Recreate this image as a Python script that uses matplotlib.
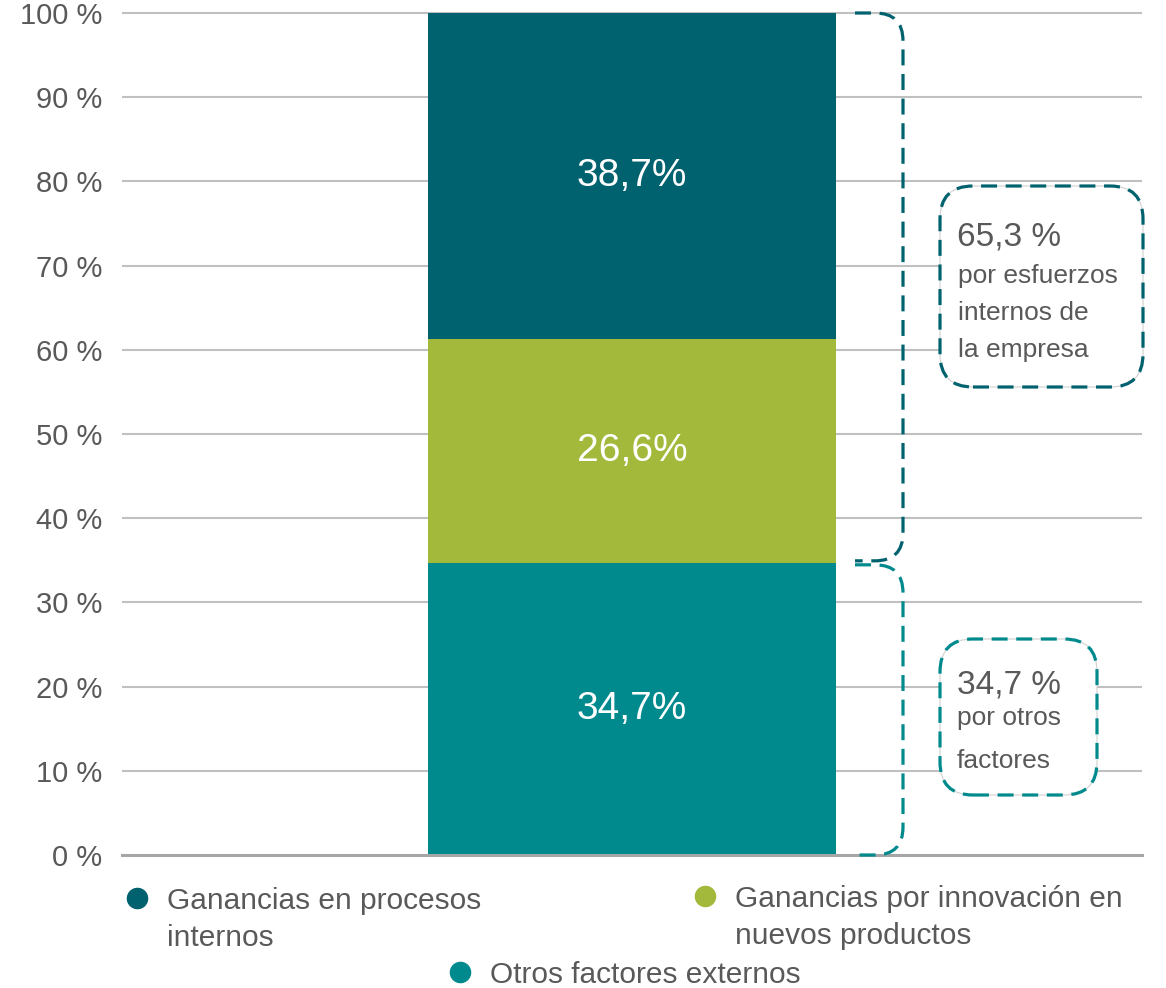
import matplotlib
matplotlib.use("Agg")
import matplotlib.pyplot as plt
from matplotlib.patches import FancyBboxPatch, PathPatch
from matplotlib.path import Path
from matplotlib.lines import Line2D

plt.rcParams['font.family'] = ['Liberation Sans', 'DejaVu Sans']

# data
series = ["Otros factores externos", "Ganancias por innovación en\nnuevos productos",
          "Ganancias en procesos\ninternos"]
values = [34.7, 26.6, 38.7]
colors = ["#008A8E", "#A3B93B", "#00626E"]
bar_labels = ["34,7%", "26,6%", "38,7%"]
yticks = list(range(0, 101, 10))
ytick_labels = [f"{t} %" for t in yticks]

GRAY = "#595959"
W_PX, H_PX = 1166, 988
fig = plt.figure(figsize=(W_PX / 100, H_PX / 100), dpi=100)

# axes geometry in pixels
ax_l, ax_r, ax_t, ax_b = 122, 1142, 13, 855
ax = fig.add_axes([ax_l / W_PX, 1 - ax_b / H_PX, (ax_r - ax_l) / W_PX, (ax_b - ax_t) / H_PX])
ax.set_xlim(0, 1)
ax.set_ylim(0, 100)

# gridlines
ax.hlines(yticks[1:], 0, 1, colors="#C0C0C0", linewidth=1.5, zorder=0, clip_on=False)

# stacked bar
bottom = 0
for v, c, lab in zip(values, colors, bar_labels):
    ax.bar(0.5, v, width=0.4, bottom=bottom, color=c, zorder=2)
    ax.text(0.5, bottom + v / 2, lab, ha="center", va="center", color="white", fontsize=28, zorder=3)
    bottom += v

for s in ["left", "right", "top"]:
    ax.spines[s].set_visible(False)
ax.spines["bottom"].set_color("#A6A6A6")
ax.spines["bottom"].set_linewidth(2.2)
ax.spines["bottom"].set_zorder(3)
ax.set_xticks([])
ax.set_yticks(yticks)
ax.set_yticklabels(ytick_labels, fontsize=21, color=GRAY)
ax.tick_params(axis="y", length=0, pad=14)

T = fig.dpi_scale_trans


def y_in(v):
    # data value -> inches from figure bottom
    return (H_PX - ax_b + v / 100 * (ax_b - ax_t)) / 100


def bracket(y_lo, y_hi, color):
    x0, x1, r = 8.55, 9.03, 0.28
    verts = [(x0, y_hi), (x1 - r, y_hi), (x1, y_hi), (x1, y_hi - r),
             (x1, y_lo + r), (x1, y_lo), (x1 - r, y_lo), (x0, y_lo)]
    codes = [Path.MOVETO, Path.LINETO, Path.CURVE3, Path.CURVE3,
             Path.LINETO, Path.CURVE3, Path.CURVE3, Path.LINETO]
    fig.add_artist(PathPatch(Path(verts, codes), transform=T, fill=False,
                             edgecolor=color, linewidth=2.3, linestyle=(0, (5, 2.7))))


split = values[0]
bracket(y_in(split) + 0.02, y_in(100), colors[2])
bracket(y_in(0), y_in(split) - 0.02, colors[0])


def note_box(x, y, w, h, color):
    fig.add_artist(FancyBboxPatch((x, y), w, h, boxstyle="round,pad=0,rounding_size=0.33",
                                  transform=T, facecolor="white", edgecolor="#D0D0D0", linewidth=0.8))
    fig.add_artist(FancyBboxPatch((x, y), w, h, boxstyle="round,pad=0,rounding_size=0.33",
                                  transform=T, fill=False, edgecolor=color, linewidth=2.3,
                                  linestyle=(0, (5, 2.7))))


note_box(9.40, (H_PX - 387) / 100, 2.03, 2.01, colors[2])
note_box(9.40, (H_PX - 795) / 100, 1.57, 1.56, colors[0])

internal = values[1] + values[2]
fig.text(9.57, (H_PX - 245) / 100, f"{internal:.1f} %".replace(".", ","), transform=T,
         fontsize=24, color=GRAY, va="baseline")
for txt, yb in [("por esfuerzos", 283), ("internos de", 320), ("la empresa", 357)]:
    fig.text(9.58, (H_PX - yb) / 100, txt, transform=T, fontsize=19, color=GRAY, va="baseline")

fig.text(9.57, (H_PX - 693) / 100, f"{values[0]:.1f} %".replace(".", ","), transform=T,
         fontsize=24, color=GRAY, va="baseline")
for txt, yb in [("por otros", 725), ("factores", 768)]:
    fig.text(9.57, (H_PX - yb) / 100, txt, transform=T, fontsize=19, color=GRAY, va="baseline")

# legend (manual layout)
legend_pos = [(460, 972), (705, 896), (137, 898)]
for (px, py), c, name in zip(legend_pos, colors, series):
    fig.add_artist(Line2D([px / 100], [(H_PX - py) / 100], transform=T, marker="o",
                          markersize=14.5, color=c, linestyle="none"))
    fig.text((px + 30) / 100, (H_PX - py) / 100 + 0.115, name, transform=T, fontsize=21.5,
             color=GRAY, va="top", linespacing=1.45)

fig.savefig("out.png", dpi=100)
